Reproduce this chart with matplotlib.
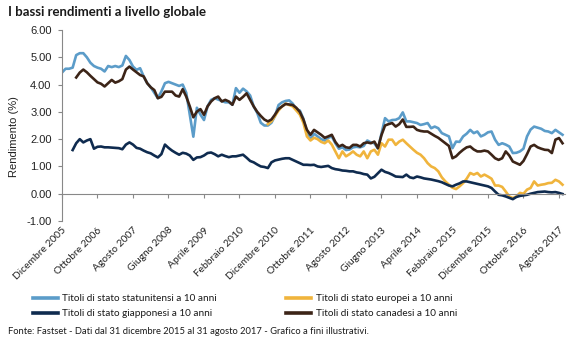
import numpy as np
import matplotlib
matplotlib.use("Agg")
import matplotlib.pyplot as plt

nan = np.nan

title = "I bassi rendimenti a livello globale"
ylabel = "Rendimento (%)"
footer = "Fonte: Fastset - Dati dal 31 dicembre 2015 al 31 agosto 2017 - Grafico a fini illustrativi."

tick_labels = ["Dicembre 2005", "Ottobre 2006", "Agosto 2007", "Giugno 2008", "Aprile 2009",
               "Febbraio 2010", "Dicembre 2010", "Ottobre 2011", "Agosto 2012", "Giugno 2013",
               "Aprile 2014", "Febbraio 2015", "Dicembre 2015", "Ottobre 2016", "Agosto 2017"]
tick_pos = [0, 10, 20, 30, 40, 50, 60, 70, 80, 90, 100, 110, 120, 130, 140]

series_names = ["Titoli di stato statunitensi a 10 anni", "Titoli di stato europei a 10 anni",
                "Titoli di stato giapponesi a 10 anni", "Titoli di stato canadesi a 10 anni"]

us = [4.44, 4.58, 4.58, 4.62, 5.08, 5.15, 5.15, 5.0, 4.8, 4.68,
      4.62, 4.58, 4.48, 4.68, 4.64, 4.68, 4.64, 4.7, 5.05, 4.9,
      4.66, 4.54, 4.6, 4.3, 4.05, 3.9, 3.7, 3.5, 3.75, 4.05,
      4.1, 4.05, 4.0, 3.95, 4.0, 3.7, 2.9, 2.09, 3.15, 2.9,
      2.7, 3.2, 3.44, 3.5, 3.45, 3.4, 3.35, 3.35, 3.26, 3.87,
      3.7, 3.85, 3.75, 3.6, 3.2, 2.96, 2.6, 2.5, 2.5, 2.6,
      2.85, 3.25, 3.35, 3.4, 3.42, 3.3, 3.1, 3.05, 2.75, 2.25,
      2.0, 2.2, 2.1, 2.0, 1.95, 2.05, 2.1, 1.85, 1.65, 1.7,
      1.6, 1.62, 1.7, 1.72, 1.7, 1.75, 1.95, 1.88, 1.85, 1.65,
      2.2, 2.77, 2.65, 2.7, 2.71, 2.77, 2.98, 2.65, 2.65, 2.62,
      2.59, 2.52, 2.55, 2.59, 2.4, 2.46, 2.4, 2.22, 2.16, 2.1,
      1.67, 1.91, 1.9, 2.1, 2.2, 2.34, 2.22, 2.28, 2.1, 2.16,
      2.25, 2.28, 1.98, 1.79, 1.85, 1.8, 1.73, 1.49, 1.5, 1.55,
      1.65, 2.1, 2.35, 2.46, 2.42, 2.38, 2.3, 2.28, 2.22, 2.34,
      2.25, 2.16]

europe = [nan] * 58 + [
      2.55, 2.65,
      2.85, 3.05, 3.2, 3.3, 3.25, 3.2, 3.05, 2.9, 2.6, 2.1,
      1.95, 2.05, 2.0, 1.9, 1.85, 1.95, 1.8, 1.55, 1.3, 1.55,
      1.37, 1.45, 1.55, 1.43, 1.37, 1.55, 1.3, 1.55, 1.61, 1.43,
      1.85, 1.73, 1.98, 1.98, 1.79, 1.91, 1.98, 1.85, 1.73, 1.61,
      1.5, 1.43, 1.3, 1.12, 1.0, 0.94, 0.82, 0.6, 0.45, 0.33,
      0.22, 0.17, 0.27, 0.39, 0.55, 0.76, 0.7, 0.76, 0.63, 0.7,
      0.63, 0.55, 0.3, 0.3, 0.25, 0.08, -0.1, -0.16, -0.1, 0.03,
      0.0, 0.15, 0.21, 0.45, 0.3, 0.33, 0.35, 0.39, 0.4, 0.51,
      0.45, 0.33]

japan = [nan] * 3 + [
      1.6, 1.85, 2.0, 1.88, 1.95, 2.0, 1.65,
      1.72, 1.73, 1.7, 1.7, 1.69, 1.68, 1.67, 1.63, 1.8, 1.88,
      1.8, 1.68, 1.65, 1.58, 1.52, 1.48, 1.4, 1.33, 1.45, 1.8,
      1.68, 1.58, 1.5, 1.43, 1.5, 1.47, 1.4, 1.24, 1.33, 1.34,
      1.4, 1.49, 1.51, 1.45, 1.37, 1.43, 1.38, 1.34, 1.37, 1.37,
      1.4, 1.43, 1.32, 1.2, 1.15, 1.07, 1.0, 0.98, 0.94, 1.15,
      1.22, 1.25, 1.28, 1.3, 1.3, 1.24, 1.18, 1.12, 1.06, 1.06,
      1.05, 1.06, 1.0, 0.98, 1.0, 1.02, 0.94, 0.9, 0.88, 0.85,
      0.84, 0.82, 0.82, 0.78, 0.76, 0.72, 0.7, 0.56, 0.62, 0.75,
      0.88, 0.8, 0.76, 0.7, 0.63, 0.62, 0.61, 0.7, 0.6, 0.57,
      0.63, 0.6, 0.56, 0.54, 0.52, 0.49, 0.46, 0.42, 0.36, 0.3,
      0.27, 0.33, 0.38, 0.45, 0.45, 0.42, 0.39, 0.36, 0.33, 0.3,
      0.27, 0.21, 0.08, -0.04, -0.06, -0.1, -0.15, -0.2, -0.12, -0.08,
      -0.06, -0.04, 0.0, 0.03, 0.06, 0.07, 0.08, 0.06, 0.05, 0.06,
      0.03, -0.01]

canada = [nan] * 4 + [
      4.26, 4.44, 4.55, 4.45, 4.32, 4.2,
      4.08, 4.03, 3.93, 4.05, 4.17, 4.07, 4.12, 4.2, 4.55, 4.66,
      4.55, 4.45, 4.35, 4.3, 4.05, 3.9, 3.8, 3.5, 3.55, 3.74,
      3.74, 3.74, 3.6, 3.56, 3.83, 3.56, 3.2, 2.8, 3.01, 3.1,
      2.89, 3.2, 3.38, 3.5, 3.56, 3.38, 3.44, 3.38, 3.26, 3.56,
      3.44, 3.55, 3.68, 3.44, 3.2, 3.0, 2.85, 2.72, 2.65, 2.72,
      2.9, 3.1, 3.2, 3.29, 3.27, 3.25, 3.15, 3.0, 2.72, 2.34,
      2.16, 2.34, 2.25, 2.16, 2.05, 2.1, 2.16, 1.9, 1.73, 1.79,
      1.7, 1.68, 1.79, 1.79, 1.73, 1.85, 1.88, 1.85, 1.91, 1.67,
      2.15, 2.5, 2.55, 2.59, 2.46, 2.55, 2.72, 2.45, 2.45, 2.46,
      2.34, 2.3, 2.28, 2.28, 2.2, 2.12, 2.05, 1.95, 1.85, 1.75,
      1.3, 1.37, 1.5, 1.61, 1.7, 1.73, 1.62, 1.55, 1.55, 1.58,
      1.55, 1.43, 1.3, 1.24, 1.3, 1.55, 1.4, 1.18, 1.12, 1.06,
      1.2, 1.45, 1.73, 1.79, 1.7, 1.65, 1.61, 1.6, 1.49, 1.98,
      2.04, 1.85]

colors = {"us": "#5b9cc9", "eu": "#f0b43c", "jp": "#0f2b4f", "ca": "#3c2417"}

plt.rcParams["axes.unicode_minus"] = False
W, H = 574, 341
fig = plt.figure(figsize=(W / 100, H / 100), dpi=100)
ax = fig.add_axes([62 / W, 1 - 221 / H, (565 - 62) / W, (221 - 30) / H])

x = np.arange(len(us))
lw = 1.9
l_us, = ax.plot(x, us, color=colors["us"], lw=lw, solid_joinstyle="round")
l_eu, = ax.plot(np.arange(len(europe)), europe, color=colors["eu"], lw=lw, solid_joinstyle="round")
l_jp, = ax.plot(np.arange(len(japan)), japan, color=colors["jp"], lw=lw, solid_joinstyle="round")
l_ca, = ax.plot(np.arange(len(canada)), canada, color=colors["ca"], lw=lw, solid_joinstyle="round")

ax.set_xlim(0, 141.7)
ax.set_ylim(-1, 6)
ax.set_yticks(np.arange(-1, 7, 1))
ax.set_yticklabels([f"{v:.2f}" for v in np.arange(-1, 7, 1)], fontfamily="Liberation Sans", fontsize=8, color="#222222")
ax.tick_params(axis="y", direction="out", length=3, width=0.8, color="#888888", pad=4.5)

for s in ["top", "right"]:
    ax.spines[s].set_visible(False)
ax.spines["bottom"].set_position(("data", 0))
ax.spines["bottom"].set_color("#888888")
ax.spines["left"].set_color("#888888")
ax.spines["bottom"].set_linewidth(0.8)
ax.spines["left"].set_linewidth(0.8)

ax.set_xticks(tick_pos)
ax.set_xticklabels(tick_labels, rotation=45, ha="right", rotation_mode="anchor",
                   fontfamily="Lato", fontsize=7.4, color="#222222")
ax.tick_params(axis="x", direction="out", length=3, width=0.8, color="#888888", pad=20)

ax.set_ylabel(ylabel, fontfamily="Liberation Sans", fontsize=8, color="#222222")
ax.yaxis.set_label_coords((19 - 62) / (565 - 62), (221 - 137) / (221 - 30))

t_title = fig.text(8 / W, 1 - 12 / H, title, fontfamily="Lato", fontweight="bold", fontsize=9,
                   color="#1a1a1a", ha="left", va="center")
t_foot = fig.text(8 / W, 1 - 331 / H, footer, fontfamily="Lato", fontsize=7.4,
                  color="#1a1a1a", ha="left", va="center")

leg = fig.legend([l_us, l_jp, l_eu, l_ca],
                 [series_names[0], series_names[2], series_names[1], series_names[3]],
                 ncol=2, frameon=False, loc="upper left",
                 bbox_to_anchor=(33 / W, 1 - 294 / H),
                 prop={"family": "Lato", "size": 7.2},
                 handlelength=2.5, handletextpad=0.45, columnspacing=6.9,
                 labelspacing=0.62, borderpad=0, borderaxespad=0)
for t in leg.get_texts():
    t.set_color("#1a1a1a")
for h in leg.legend_handles:
    h.set_linewidth(2.6)

# fit text widths to the reference
fig.canvas.draw()
r = fig.canvas.get_renderer()
for t, target in [(t_title, 197), (t_foot, 360)]:
    w = t.get_window_extent(r).width
    t.set_fontsize(t.get_fontsize() * target / w)

fig.savefig("out.png", dpi=100, facecolor="white")
